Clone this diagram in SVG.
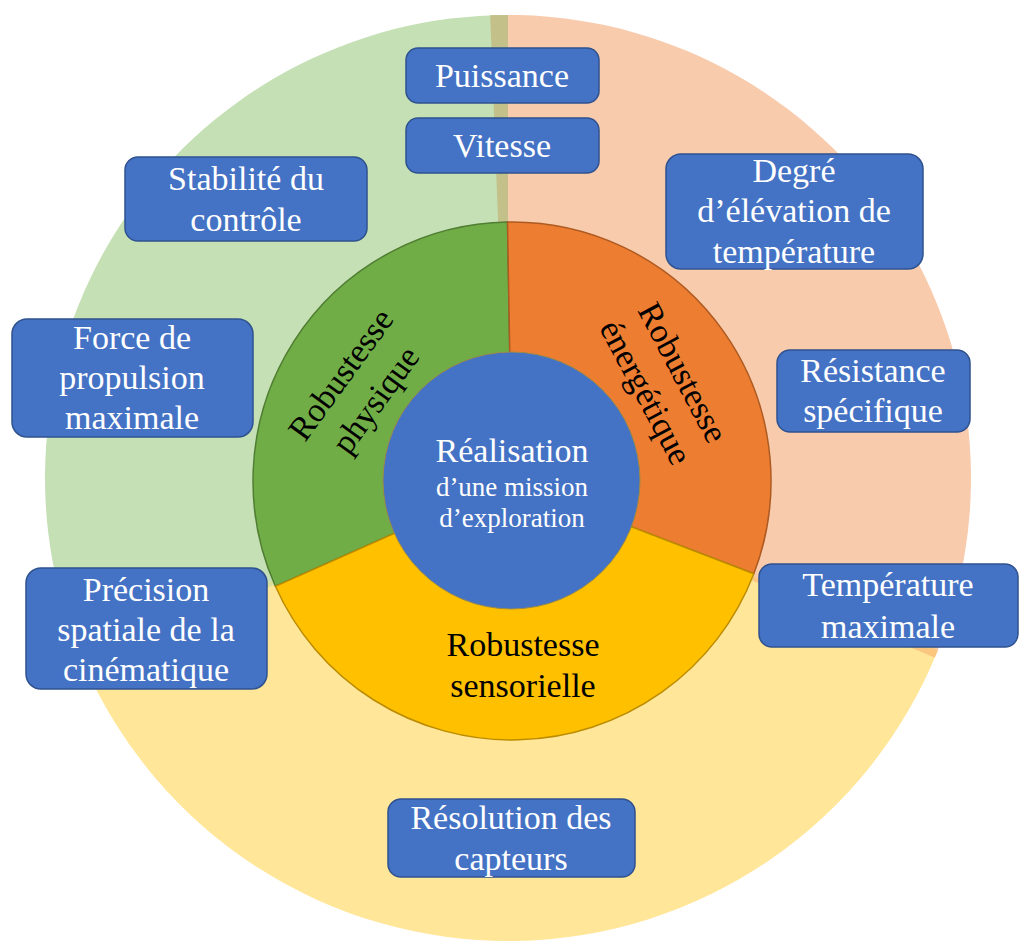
<svg xmlns="http://www.w3.org/2000/svg" width="1026" height="944" viewBox="0 0 1026 944">
<style>
.box{fill:#4472c4;stroke:#2f528f;stroke-width:1.5}
.bt{font-family:"Liberation Serif",serif;font-size:34px;fill:#ffffff;text-anchor:middle}
.rl{font-family:"Liberation Serif",serif;font-size:34px;fill:#000000;text-anchor:middle}
.ct{font-family:"Liberation Serif",serif;fill:#ffffff;text-anchor:middle}
</style>
<rect width="1026" height="944" fill="#ffffff"/>
<g id="outer-ring">
<path d="M508 478 L937.9 650.0 A463 463 0 0 1 83.4 662.6 Z" fill="#ffe699"/>
<path d="M508 478 L490.2 15.3 A463 463 0 0 1 934.8 657.4 Z" fill="#f8cbad"/>
<path d="M508 478 L86.7 670.0 A463 463 0 0 1 508 15 Z" fill="#c5e0b4"/>
<path d="M508 478 L490.2 15.3 A463 463 0 0 1 508 15 Z" fill="#c3c08a"/>
<path d="M508 478 L937.9 650.0 A463 463 0 0 1 934.8 657.4 Z" fill="#fbc77e"/>
<path d="M508 478 L86.7 670.0 A463 463 0 0 1 83.4 662.6 Z" fill="#d8dd9e"/>
</g>
<g id="inner-ring">
<g id="robustesse-physique">
<path d="M512 481 L275.4 586.3 A259 259 0 0 1 507.5 222.0 Z" fill="#70ad47" stroke="#507e32" stroke-width="1.5"/>
</g>
<g id="robustesse-energetique">
<path d="M512 481 L507.5 222.0 A259 259 0 0 1 753.8 573.8 Z" fill="#ed7d31" stroke="#ae5a21" stroke-width="1.5"/>
</g>
<g id="robustesse-sensorielle">
<path d="M512 481 L753.8 573.8 A259 259 0 0 1 275.4 586.3 Z" fill="#ffc000" stroke="#bc8c00" stroke-width="1.5"/>
</g>
<g transform="translate(358,387) rotate(-54)">
<text class="rl" x="0" y="-10">Robustesse</text>
<text class="rl" x="0" y="33">physique</text>
</g>
<g transform="translate(665,382) rotate(62)">
<text class="rl" x="0" y="-9">Robustesse</text>
<text class="rl" x="0" y="33">énergétique</text>
</g>
<text class="rl" x="523" y="656">Robustesse</text>
<text class="rl" x="523" y="697">sensorielle</text>
</g>
<g id="center">
<circle cx="511.5" cy="480.5" r="128.5" fill="#4472c4" stroke="#9a8a4a" stroke-width="1"/>
<text class="ct" x="512" y="462" font-size="34">Réalisation</text>
<text class="ct" x="512" y="496" font-size="27">d’une mission</text>
<text class="ct" x="512" y="527" font-size="27">d’exploration</text>
</g>
<g id="connectors"></g>
<g id="puissance">
<rect class="box" x="406" y="48" width="193" height="55" rx="12"/>
<text class="bt" x="502" y="87">Puissance</text>
</g>
<g id="vitesse">
<rect class="box" x="406" y="118" width="193" height="55" rx="12"/>
<text class="bt" x="502" y="157">Vitesse</text>
</g>
<g id="stabilite">
<rect class="box" x="125" y="157" width="242" height="84" rx="13"/>
<text class="bt" x="246" y="190">Stabilité du</text>
<text class="bt" x="246" y="231">contrôle</text>
</g>
<g id="force">
<rect class="box" x="12" y="319" width="241" height="118" rx="15"/>
<text class="bt" x="132" y="349">Force de</text>
<text class="bt" x="132" y="389">propulsion</text>
<text class="bt" x="132" y="429">maximale</text>
</g>
<g id="degre">
<rect class="box" x="666" y="154" width="257" height="115" rx="15"/>
<text class="bt" x="794" y="182">Degré</text>
<text class="bt" x="794" y="222">d’élévation de</text>
<text class="bt" x="794" y="263">température</text>
</g>
<g id="resistance">
<rect class="box" x="777" y="350" width="193" height="82" rx="13"/>
<text class="bt" x="873" y="382">Résistance</text>
<text class="bt" x="873" y="422">spécifique</text>
</g>
<g id="temperature">
<rect class="box" x="759" y="564" width="259" height="83" rx="13"/>
<text class="bt" x="888" y="596">Température</text>
<text class="bt" x="888" y="638">maximale</text>
</g>
<g id="precision">
<rect class="box" x="26" y="568" width="241" height="121" rx="15"/>
<text class="bt" x="146" y="601">Précision</text>
<text class="bt" x="146" y="641">spatiale de la</text>
<text class="bt" x="146" y="681">cinématique</text>
</g>
<g id="resolution">
<rect class="box" x="388" y="799" width="247" height="78" rx="13"/>
<text class="bt" x="511" y="829">Résolution des</text>
<text class="bt" x="511" y="870">capteurs</text>
</g>
</svg>
